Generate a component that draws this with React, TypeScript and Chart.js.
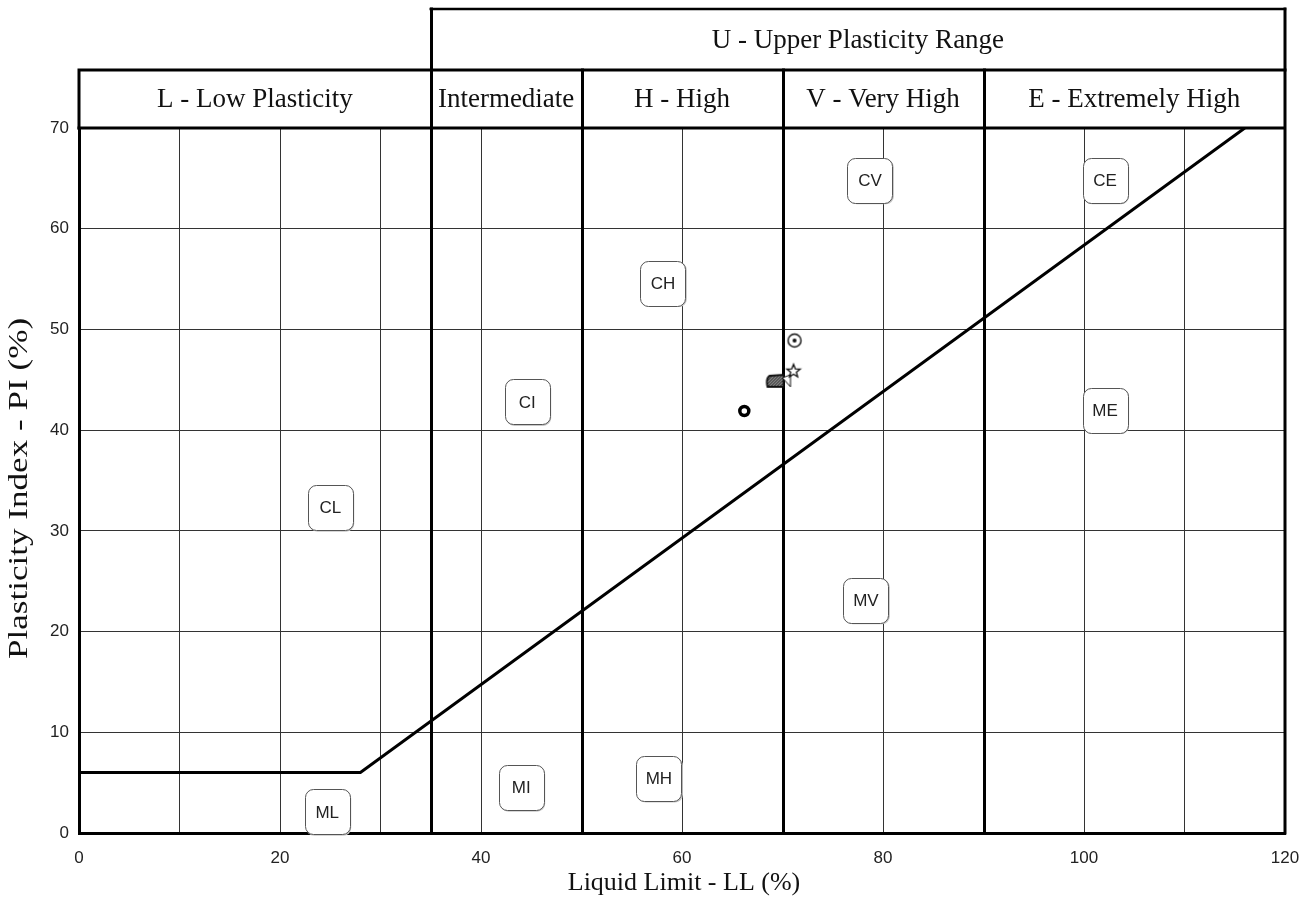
import React, { useEffect, useRef } from 'react';
import { Chart, registerables } from 'chart.js';

Chart.register(...registerables);

// ---- data ----
const xMin = 0;
const xMax = 120;
const xGridStep = 10;
const xLabelStep = 20;
const yMin = 0;
const yMax = 70;
const yGridStep = 10;

const aLineLL = [0, 28, 116];
const aLinePI = [6, 6, 70];

const zoneBoundaries = [35, 50, 70, 90];
const zoneHeaderEdges = [0, 35, 50, 70, 90, 120];
const zoneHeaders = ['L - Low Plasticity', 'Intermediate', 'H - High', 'V - Very High', 'E - Extremely High'];
const upperHeaderText = 'U - Upper Plasticity Range';
const upperRange = [35, 120];

const classLabels = ['CV', 'CE', 'CH', 'CI', 'ME', 'CL', 'MV', 'MH', 'MI', 'ML'];
const classLL = [78.7, 102.1, 58.1, 44.6, 102.1, 25.0, 78.3, 57.7, 44.0, 24.7];
const classPI = [64.8, 64.8, 54.6, 42.8, 42.0, 32.3, 23.1, 5.4, 4.5, 2.1];

const sampleNames = ['Sample A', 'Sample B', 'Sample C', 'Sample D'];
const sampleLL = [71.2, 71.1, 69.6, 66.2];
const samplePI = [48.9, 45.9, 44.9, 41.9];

const xTitle = 'Liquid Limit - LL (%)';
const yTitle = 'Plasticity Index - PI (%)';

const SERIF = '"Liberation Serif", "Times New Roman", serif';
const SANS = '"Liberation Sans", Arial, sans-serif';

// ---- marker images ----
function makeCanvas(w: number, h: number, draw: (c: CanvasRenderingContext2D) => void) {
  const c = document.createElement('canvas');
  c.width = w;
  c.height = h;
  const g = c.getContext('2d')!;
  draw(g);
  return c;
}

function dotCircle() {
  return makeCanvas(18, 18, (g) => {
    g.strokeStyle = '#111';
    g.lineWidth = 1.4;
    g.beginPath();
    g.arc(9, 9, 6.5, 0, Math.PI * 2);
    g.stroke();
    g.fillStyle = '#111';
    g.beginPath();
    g.arc(9, 9, 2, 0, Math.PI * 2);
    g.fill();
  });
}

function starMarker() {
  return makeCanvas(18, 18, (g) => {
    g.strokeStyle = '#111';
    g.lineWidth = 1.3;
    g.beginPath();
    for (let i = 0; i < 10; i++) {
      const r = i % 2 === 0 ? 7 : 3;
      const a = -Math.PI / 2 + (i * Math.PI) / 5;
      const px = 9 + r * Math.cos(a);
      const py = 9.5 + r * Math.sin(a);
      if (i === 0) g.moveTo(px, py);
      else g.lineTo(px, py);
    }
    g.closePath();
    g.stroke();
  });
}

function hatchPath(g: CanvasRenderingContext2D) {
  g.beginPath();
  g.moveTo(5, 4);
  g.lineTo(19, 3);
  g.lineTo(19, 15);
  g.lineTo(3, 15);
  g.quadraticCurveTo(1, 7, 5, 4);
  g.closePath();
}

function hatchMarker() {
  return makeCanvas(28, 18, (g) => {
    g.save();
    hatchPath(g);
    g.fillStyle = '#888';
    g.fill();
    g.clip();
    g.strokeStyle = '#222';
    g.lineWidth = 1;
    for (let k = -18; k < 28; k += 3) {
      g.beginPath();
      g.moveTo(k, 18);
      g.lineTo(k + 16, 2);
      g.stroke();
    }
    g.restore();
    g.strokeStyle = '#111';
    g.lineWidth = 1.8;
    hatchPath(g);
    g.stroke();
    g.fillStyle = '#fff';
    g.beginPath();
    g.moveTo(18, 6);
    g.lineTo(26, 3);
    g.lineTo(26, 15);
    g.closePath();
    g.fill();
    g.lineWidth = 1;
    g.stroke();
  });
}

// ---- plugins ----
const framePlugin = {
  id: 'frame',
  beforeDatasetsDraw(chart: any) {
    const { ctx, chartArea, scales } = chart;
    const { left, right, top, bottom } = chartArea;
    const x = scales.x;
    const row2Top = top - 58;
    const row1Top = top - 119;
    ctx.save();
    ctx.strokeStyle = '#000';
    ctx.lineCap = 'square';

    ctx.lineWidth = 3;
    zoneBoundaries.forEach((v) => {
      const px = Math.round(x.getPixelForValue(v)) + 0.5;
      ctx.beginPath();
      ctx.moveTo(px, bottom);
      ctx.lineTo(px, v === upperRange[0] ? row1Top : row2Top);
      ctx.stroke();
    });

    ctx.beginPath();
    ctx.moveTo(left, top);
    ctx.lineTo(right, top);
    ctx.moveTo(right, row1Top);
    ctx.lineTo(right, bottom);
    ctx.stroke();

    ctx.beginPath();
    ctx.moveTo(left, row2Top);
    ctx.lineTo(right, row2Top);
    ctx.moveTo(left, row2Top);
    ctx.lineTo(left, top);
    ctx.stroke();

    const u0 = x.getPixelForValue(upperRange[0]);
    const u1 = x.getPixelForValue(upperRange[1]);
    ctx.lineWidth = 2.5;
    ctx.beginPath();
    ctx.moveTo(u0, row1Top);
    ctx.lineTo(u1, row1Top);
    ctx.stroke();

    ctx.fillStyle = '#111';
    ctx.font = `27px ${SERIF}`;
    ctx.textAlign = 'center';
    ctx.textBaseline = 'middle';
    zoneHeaders.forEach((t, i) => {
      const a = x.getPixelForValue(zoneHeaderEdges[i]);
      const b = x.getPixelForValue(zoneHeaderEdges[i + 1]);
      ctx.fillText(t, (a + b) / 2, (row2Top + top) / 2 + 1);
    });
    ctx.fillText(upperHeaderText, (u0 + u1) / 2, (row1Top + row2Top) / 2 + 1);

    // axis titles
    ctx.font = `26px ${SERIF}`;
    ctx.fillText(xTitle, (left + right) / 2 + 2, bottom + 50);
    ctx.save();
    ctx.translate(20, (top + bottom) / 2 + 8);
    ctx.rotate(-Math.PI / 2);
    ctx.scale(1.3, 1);
    ctx.font = `27px ${SERIF}`;
    ctx.fillText(yTitle, 0, 0);
    ctx.restore();
    ctx.restore();
  },
  afterDatasetsDraw(chart: any) {
    const { ctx, scales } = chart;
    const x = scales.x;
    const y = scales.y;
    ctx.save();
    ctx.font = `17px ${SANS}`;
    ctx.textAlign = 'center';
    ctx.textBaseline = 'middle';
    const w = 45;
    const h = 45;
    classLabels.forEach((t, i) => {
      const cx = x.getPixelForValue(classLL[i]);
      const cy = y.getPixelForValue(classPI[i]);
      ctx.fillStyle = '#c8c8c8';
      ctx.beginPath();
      ctx.roundRect(cx - w / 2 + 1.5, cy - h / 2 + 1.5, w, h, 8);
      ctx.fill();
      ctx.fillStyle = '#fff';
      ctx.strokeStyle = '#555';
      ctx.lineWidth = 1;
      ctx.beginPath();
      ctx.roundRect(Math.round(cx - w / 2) + 0.5, Math.round(cy - h / 2) + 0.5, w, h, 8);
      ctx.fill();
      ctx.stroke();
      ctx.fillStyle = '#222';
      ctx.fillText(t, cx, cy + 1);
    });
    ctx.restore();
  },
};

export default function App() {
  const ref = useRef<HTMLCanvasElement | null>(null);

  useEffect(() => {
    if (!ref.current) return;
    const markers: any[] = [dotCircle(), starMarker(), hatchMarker(), 'circle'];
    const sampleDatasets = sampleNames.map((n, i) => ({
      label: n,
      data: [{ x: sampleLL[i], y: samplePI[i] }],
      pointStyle: markers[i],
      pointRadius: i === 3 ? 4.5 : 6,
      borderWidth: i === 3 ? 3.5 : 1,
      borderColor: '#000',
      backgroundColor: '#fff',
      showLine: false,
      clip: false as any,
    }));

    const chart = new Chart(ref.current, {
      type: 'scatter',
      data: {
        datasets: [
          {
            label: 'A-line',
            data: aLineLL.map((v, i) => ({ x: v, y: aLinePI[i] })),
            showLine: true,
            borderColor: '#000',
            borderWidth: 3,
            pointRadius: 0,
            fill: false,
          } as any,
          ...sampleDatasets,
        ],
      },
      options: {
        responsive: false,
        animation: false,
        layout: { padding: { top: 128, right: 25, left: 0, bottom: 0 } },
        plugins: {
          legend: { display: false },
          tooltip: { enabled: false },
        },
        scales: {
          x: {
            type: 'linear',
            min: xMin,
            max: xMax,
            ticks: {
              stepSize: xGridStep,
              autoSkip: false,
              maxRotation: 0,
              padding: 15,
              color: '#222',
              font: { family: SANS, size: 17 },
              callback: (v: any) => (Number(v) % xLabelStep === 0 ? String(v) : ''),
            },
            grid: { color: '#333', lineWidth: 1, drawTicks: false },
            border: { color: '#000', width: 3 },
            title: { display: false },
            afterFit: (s: any) => {
              s.height = 66;
              s.paddingLeft = 0;
              s.paddingRight = 0;
            },
          },
          y: {
            type: 'linear',
            min: yMin,
            max: yMax,
            ticks: {
              stepSize: yGridStep,
              padding: 10,
              color: '#222',
              font: { family: SANS, size: 17 },
            },
            grid: { color: '#333', lineWidth: 1, drawTicks: false },
            border: { color: '#000', width: 3 },
            title: { display: false },
            afterFit: (s: any) => {
              s.width = 79;
              s.paddingTop = 0;
              s.paddingBottom = 0;
            },
          },
        },
      } as any,
      plugins: [framePlugin],
    });
    return () => chart.destroy();
  }, []);

  return (
    <div style={{ position: 'fixed', left: 0, top: 0, width: 1310, height: 899, background: '#fff' }}>
      <canvas ref={ref} width={1310} height={899} style={{ display: 'block' }} />
    </div>
  );
}
